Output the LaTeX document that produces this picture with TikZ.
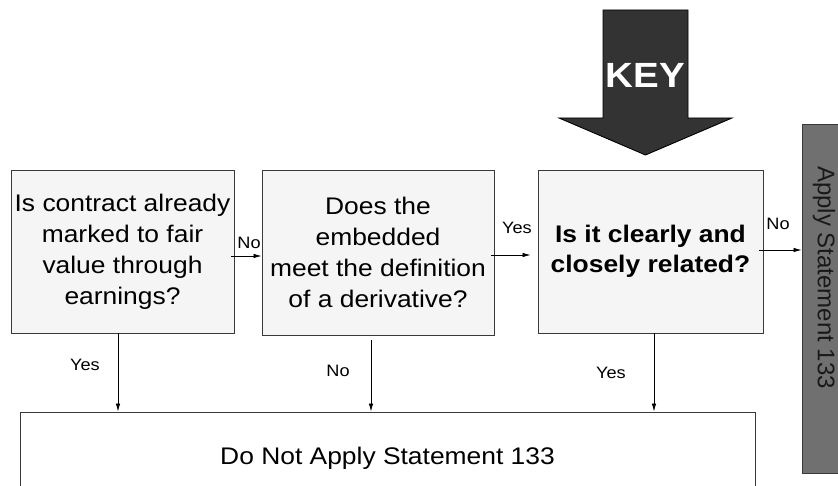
\documentclass[tikz,border=0pt]{standalone}
\usepackage{fontspec}
\setmainfont{Liberation Sans}[FakeStretch=1.1]
\newfontfamily\uprightsans{Liberation Sans}
\usetikzlibrary{arrows.meta,positioning}
\definecolor{boxfill}{HTML}{F5F5F5}
\definecolor{keygray}{HTML}{333333}
\definecolor{applygray}{HTML}{707070}
\definecolor{edgegray}{HTML}{3A3A3A}

\begin{document}
\begin{tikzpicture}[x=1pt,y=-1pt,line width=0.9pt,
  qbox/.style={draw=edgegray,fill=boxfill,align=center,inner sep=0pt,font=\fontsize{24}{31}\selectfont},
  lbl/.style={font=\fontsize{16.5}{18}\selectfont,inner sep=0pt},
  arr/.style={-{Latex[length=8pt,width=4.5pt]},line width=0.8pt}]
\useasboundingbox (0,0) rectangle (838,486);
\clip (0,0) rectangle (838,486);
% the big KEY arrow
\draw[draw=black,fill=keygray] (603,10) -- (688,10) -- (688,118) -- (732,118) -- (645.5,155) -- (559,118) -- (603,118) -- cycle;
\node[text=white,font=\bfseries\fontsize{35}{40}\selectfont] (key) at (645.5,75) {KEY};
% question boxes
\node[qbox,minimum width=223pt,minimum height=163pt] (q1) at (122.5,251.5) {Is contract already\\marked to fair\\value through\\earnings?};
\node[qbox,minimum width=232pt,minimum height=165pt] (q2) at (378,252.5) {Does the\\embedded\\meet the definition\\of a derivative?};
\node[qbox,minimum width=225pt,minimum height=163pt,font=\bfseries\fontsize{24}{30}\selectfont] (q3) at (650.5,251.5) {Is it clearly and\\closely related?};
% outcomes
\node[qbox,fill=white,minimum width=735pt,minimum height=92pt] (dnap) at (387.5,458) {Do Not Apply Statement 133};
\node[qbox,fill=applygray,minimum width=44pt,minimum height=349pt,text=black!90,font=\uprightsans\fontsize{24}{28}\selectfont] (apply) at (824,298.5) {\rotatebox{-90}{Apply Statement 133\hspace{42pt}}};
% connectors
\draw[arr] ([xshift=-3pt,yshift=-4.5pt]q1.east) -- ([yshift=-4.5pt]q1.east -| q2.west);
\draw[arr] ([xshift=-3pt,yshift=-2.5pt]q2.east) -- ([xshift=-7pt,yshift=-2.5pt]q2.east -| q3.west);
\draw[arr] ([xshift=-4pt,yshift=1.5pt]q3.east) -- ([yshift=1.5pt]q3.east -| apply.west);
\draw[arr] ([xshift=-4.5pt]q1.south) -- ([xshift=-4.5pt]q1.south |- dnap.north);
\draw[arr] ([xshift=-7pt,yshift=-5pt]q2.south) -- ([xshift=-7pt]q2.south |- dnap.north);
\draw[arr] ([xshift=3.5pt]q3.south) -- ([xshift=3.5pt]q3.south |- dnap.north);
% labels
\node[lbl] (l1) at (249,243) {No};
\node[lbl] (l2) at (517,228) {Yes};
\node[lbl] (l3) at (778,224) {No};
\node[lbl] (l4) at (85,365) {Yes};
\node[lbl] (l5) at (338,371) {No};
\node[lbl] (l6) at (611,373) {Yes};
\end{tikzpicture}
\end{document}
